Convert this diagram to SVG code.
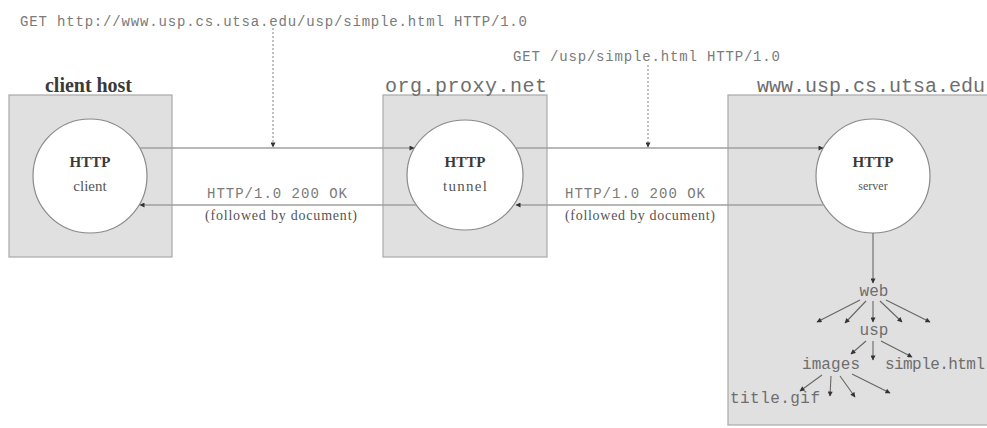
<svg xmlns="http://www.w3.org/2000/svg" width="987" height="428" viewBox="0 0 987 428">
<defs>
<style>
.box{fill:#e0e0e0;stroke:#a8a8a8;stroke-width:1.2}
.circ{fill:#ffffff;stroke:#8a8a8a;stroke-width:1.2}
.ln{stroke:#a0a0a0;stroke-width:1.6;fill:none}
.tl{stroke:#666;stroke-width:1.1;fill:none}
.dot{stroke:#999;stroke-width:1.2;stroke-dasharray:2 2;fill:none}
.mono{font-family:"Liberation Mono",monospace;fill:#7a7a7a}
.ser{font-family:"Liberation Serif",serif;fill:#555}
.ttl{font-family:"Liberation Mono",monospace;font-size:20px;fill:#6e6e6e}
.bold{font-family:"Liberation Serif",serif;font-weight:bold;fill:#3a3a3a}
.tree{font-family:"Liberation Mono",monospace;font-size:16px;fill:#6e6e6e}
</style>
<marker id="ah" viewBox="0 0 10 10" refX="9" refY="5" markerWidth="6" markerHeight="5" markerUnits="userSpaceOnUse" orient="auto">
<path d="M0,0 L10,5 L0,10 Z" fill="#333"/>
</marker>
</defs>
<rect width="987" height="428" fill="#ffffff"/>
<g id="client-host">
<rect class="box" x="9" y="95" width="163" height="162"/>
<text class="bold" x="45" y="92" font-size="20" textLength="87">client host</text>
<ellipse class="circ" cx="90" cy="176" rx="57" ry="57"/>
<text class="bold" x="90" y="167" font-size="15" text-anchor="middle">HTTP</text>
<text class="ser" x="90" y="191" font-size="15" text-anchor="middle">client</text>
</g>
<g id="proxy">
<rect class="box" x="383" y="95" width="164" height="162"/>
<text class="ttl" x="385" y="92" textLength="162">org.proxy.net</text>
<ellipse class="circ" cx="465" cy="175" rx="58" ry="55"/>
<text class="bold" x="465" y="167" font-size="15" text-anchor="middle">HTTP</text>
<text class="ser" x="465" y="191" font-size="15" text-anchor="middle" textLength="44">tunnel</text>
</g>
<g id="server-host">
<rect class="box" x="728" y="95" width="265" height="330"/>
<text class="ttl" x="757" y="92">www.usp.cs.utsa.edu</text>
<ellipse class="circ" cx="873" cy="176" rx="57" ry="57"/>
<text class="bold" x="873" y="167" font-size="15" text-anchor="middle">HTTP</text>
<text class="ser" x="873" y="190" font-size="12" text-anchor="middle">server</text>
</g>
<g id="tree">
<text class="tree" x="874" y="296" text-anchor="middle">web</text>
<text class="tree" x="874" y="335" text-anchor="middle">usp</text>
<text class="tree" x="802" y="369" textLength="58">images</text>
<text class="tree" x="885" y="369" textLength="100">simple.html</text>
<text class="tree" x="730" y="403" textLength="90">title.gif</text>
</g>
<g id="connectors">
<line class="ln" x1="140" y1="148" x2="414" y2="148" marker-end="url(#ah)"/>
<line class="ln" x1="515" y1="148" x2="823" y2="148" marker-end="url(#ah)"/>
<line class="ln" x1="416" y1="205" x2="140" y2="205" marker-end="url(#ah)"/>
<line class="ln" x1="824" y1="205" x2="516" y2="205" marker-end="url(#ah)"/>
<line class="dot" x1="273" y1="28" x2="273" y2="147" marker-end="url(#ah)"/>
<line class="dot" x1="648" y1="65" x2="648" y2="147" marker-end="url(#ah)"/>
<line class="tl" x1="873" y1="233" x2="873" y2="283" marker-end="url(#ah)"/>
<line class="tl" x1="860" y1="300" x2="817" y2="322" marker-end="url(#ah)"/>
<line class="tl" x1="866" y1="301" x2="845" y2="323" marker-end="url(#ah)"/>
<line class="tl" x1="873" y1="301" x2="873" y2="322" marker-end="url(#ah)"/>
<line class="tl" x1="880" y1="301" x2="902" y2="322" marker-end="url(#ah)"/>
<line class="tl" x1="886" y1="300" x2="930" y2="322" marker-end="url(#ah)"/>
<line class="tl" x1="866" y1="341" x2="851" y2="354" marker-end="url(#ah)"/>
<line class="tl" x1="873" y1="341" x2="873" y2="360" marker-end="url(#ah)"/>
<line class="tl" x1="881" y1="341" x2="912" y2="357" marker-end="url(#ah)"/>
<line class="tl" x1="822" y1="375" x2="800" y2="391" marker-end="url(#ah)"/>
<line class="tl" x1="831" y1="376" x2="830" y2="396" marker-end="url(#ah)"/>
<line class="tl" x1="840" y1="376" x2="855" y2="397" marker-end="url(#ah)"/>
<line class="tl" x1="852" y1="374" x2="890" y2="393" marker-end="url(#ah)"/>
</g>
<g id="labels">
<text class="mono" x="20" y="26" font-size="14" textLength="507">GET http://www.usp.cs.utsa.edu/usp/simple.html HTTP/1.0</text>
<text class="mono" x="513" y="61" font-size="14" textLength="267">GET /usp/simple.html HTTP/1.0</text>
<text class="mono" x="207" y="198" font-size="14" textLength="140">HTTP/1.0 200 OK</text>
<text class="ser" x="205" y="220" font-size="14" textLength="152">(followed by document)</text>
<text class="mono" x="565" y="198" font-size="14" textLength="140">HTTP/1.0 200 OK</text>
<text class="ser" x="565" y="220" font-size="14" textLength="150">(followed by document)</text>
</g>
</svg>
